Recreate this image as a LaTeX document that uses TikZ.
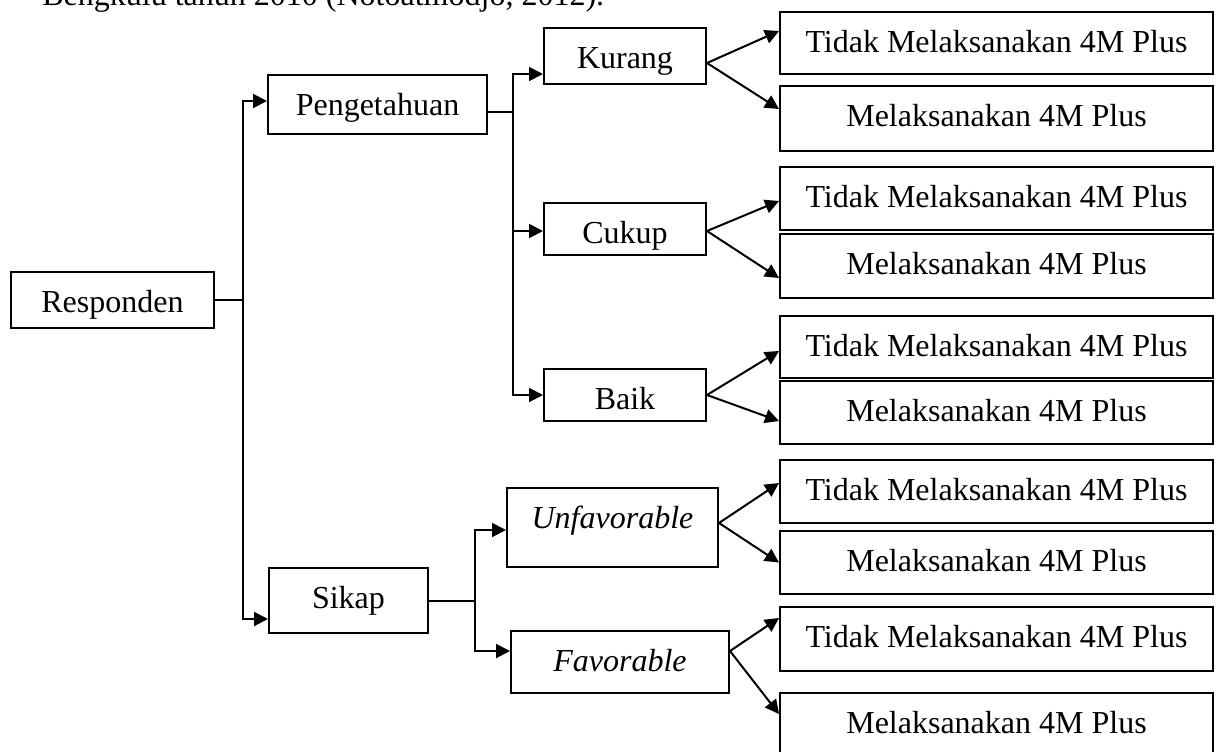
\documentclass[tikz,border=0pt]{standalone}
\usepackage{fontspec}
\setmainfont{Liberation Serif}
\usetikzlibrary{arrows.meta}

\tikzset{
    box/.style 2 args={draw, line width=1pt, inner sep=0pt, anchor=north west,
        text height=20pt, minimum width=#1, text depth=#2},
    ln/.style={line width=1pt},
    arr/.style={line width=1pt, -{Triangle[length=7pt, width=7pt]}},
}

\begin{document}
\begin{tikzpicture}[x=0.5pt, y=-0.5pt, font=\fontsize{16}{19}\selectfont]

    \useasboundingbox (0,0) rectangle (1217,751);

    % Caption line, cut off by the top edge
    \node [anchor=base west, inner sep=0pt] (caption) at (42,5) {Bengkulu tahun 2010 (Notoatmodjo, 2012).};

    %% Boxes

    % Root and first level
    \node [box={101.5pt}{8pt}] (resp) at (10,271) {Responden};
    \node [box={109.5pt}{9.5pt}] (peng) at (267,74) {Pengetahuan};
    \node [box={79.5pt}{12.5pt}] (sikap) at (268,567) {Sikap};

    % Second level
    \node [box={81pt}{8pt}] (kurang) at (543,27) {Kurang};
    \node [box={81pt}{6pt}] (cukup) at (543,202) {Cukup};
    \node [box={81pt}{6pt}] (baik) at (543,368) {Baik};
    \node [box={105.5pt}{19.5pt}] (unfav) at (506,487) {\textit{Unfavorable}};
    \node [box={109pt}{11pt}] (fav) at (510,630) {\textit{Favorable}};

    % Outcomes
    \node [box={216.5pt}{11pt}] (kurangTidak) at (779,11) {Tidak Melaksanakan 4M Plus};
    \node [box={216.5pt}{12.5pt}] (kurangMel) at (779,85) {Melaksanakan 4M Plus};
    \node [box={216.5pt}{11.5pt}] (cukupTidak) at (779,166) {Tidak Melaksanakan 4M Plus};
    \node [box={216.5pt}{12pt}] (cukupMel) at (779,233) {Melaksanakan 4M Plus};
    \node [box={216.5pt}{11pt}] (baikTidak) at (779,315) {Tidak Melaksanakan 4M Plus};
    \node [box={216.5pt}{11.5pt}] (baikMel) at (779,380) {Melaksanakan 4M Plus};
    \node [box={216.5pt}{11.5pt}] (unfavTidak) at (779,459) {Tidak Melaksanakan 4M Plus};
    \node [box={216.5pt}{11.5pt}] (unfavMel) at (779,530) {Melaksanakan 4M Plus};
    \node [box={216.5pt}{12pt}] (favTidak) at (779,606) {Tidak Melaksanakan 4M Plus};
    \node [box={216.5pt}{12pt}] (favMel) at (779,692) {Melaksanakan 4M Plus};

    %% Connectors

    % Responden
    \draw[ln] (resp.east) -- ++(14pt,0) coordinate (trunk);
    \draw[arr] (trunk) |- ([yshift=1.75pt]peng.west);
    \draw[arr] (trunk) |- ([yshift=-9.25pt]sikap.west);

    % Pengetahuan
    \draw[ln] ([yshift=-3.75pt]peng.east) -- ++(12.5pt,0) coordinate (pbus);
    \draw[arr] (pbus) |- ([yshift=-9pt]kurang.west);
    \draw[arr] (pbus) |- ([yshift=-1pt]cukup.west);
    \draw[arr] (pbus) |- (baik.west);

    % Sikap
    \draw[ln] (sikap.east) -- ++(23pt,0) coordinate (sbus);
    \draw[arr] (sbus) |- ([yshift=-1.25pt]unfav.west);
    \draw[arr] (sbus) |- ([yshift=5.5pt]fav.west);

    % Fans to the outcomes
    \draw[arr] ([yshift=-3.5pt]kurang.east) -- ([yshift=6pt]kurangTidak.west);
    \draw[arr] ([yshift=-3.5pt]kurang.east) -- ([yshift=4.75pt]kurangMel.west);
    \draw[arr] ([yshift=-1pt]cukup.east) -- ([yshift=-1.25pt]cukupTidak.west);
    \draw[arr] ([yshift=-1pt]cukup.east) -- ([yshift=-6pt]cukupMel.west);
    \draw[arr] (baik.east) -- ([yshift=-2pt]baikTidak.west);
    \draw[arr] (baik.east) -- ([yshift=-4.25pt]baikMel.west);
    \draw[arr] ([yshift=2.25pt]unfav.east) -- ([yshift=4.25pt]unfavTidak.west);
    \draw[arr] ([yshift=2.25pt]unfav.east) -- (unfavMel.west);
    \draw[arr] ([yshift=5.5pt]fav.east) -- ([yshift=10.5pt]favTidak.west);
    \draw[arr] ([yshift=5.5pt]fav.east) -- ([yshift=5.5pt]favMel.west);

\end{tikzpicture}
\end{document}
